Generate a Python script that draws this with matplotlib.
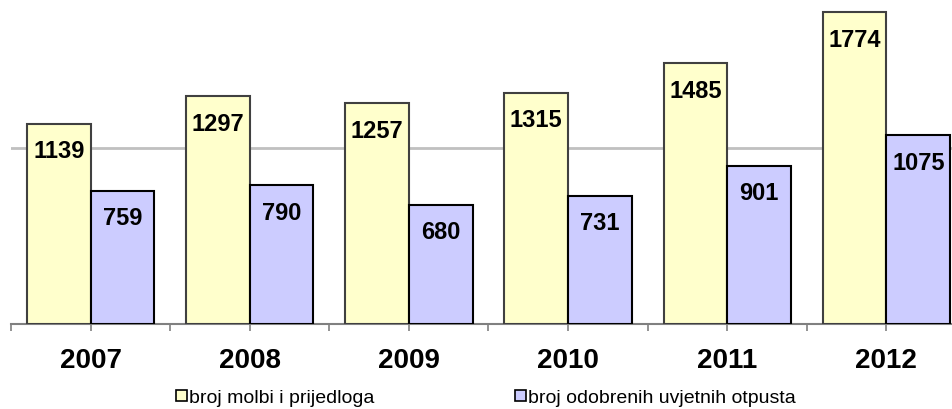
import matplotlib
matplotlib.use("Agg")
import matplotlib.pyplot as plt
import numpy as np
from matplotlib.patches import Patch

years = ["2007", "2008", "2009", "2010", "2011", "2012"]
molbe = [1139, 1297, 1257, 1315, 1485, 1774]
odobreno = [759, 790, 680, 731, 901, 1075]
series_names = ["broj molbi i prijedloga", "broj odobrenih uvjetnih otpusta"]

plt.rcParams['font.family'] = ['Liberation Sans', 'DejaVu Sans']

fig = plt.figure(figsize=(9.52, 4.10), dpi=100)
W, H = 952, 410
ax = fig.add_axes([11 / W, 85 / H, 955 / W, 351.4 / H])

x = np.arange(len(years))
w = 0.4
b1 = ax.bar(x - w / 2, molbe, w, color="#FFFFCC", edgecolor="#404040", linewidth=1.5, zorder=3)
b2 = ax.bar(x + w / 2, odobreno, w, color="#CCCCFF", edgecolor="#000000", linewidth=1.5, zorder=3)

for bars, vals in ((b1, molbe), (b2, odobreno)):
    for r, v in zip(bars, vals):
        ax.annotate(str(v), (r.get_x() + r.get_width() / 2, v), xytext=(0, -27),
                    textcoords="offset pixels", ha="center", va="center",
                    fontsize=17, fontweight="bold", color="black", zorder=4)

ax.set_xlim(-0.5, len(years) - 0.5)
ax.set_ylim(0, 2000)
ax.set_yticks([1000])
ax.yaxis.grid(True, color="#C0C0C0", linewidth=2, zorder=0)
ax.tick_params(axis="y", length=0, labelleft=False)

ax.set_xticks(x)
ax.set_xticklabels(years, fontsize=20, fontweight="bold")
ax.set_xticks(np.arange(-0.5, len(years)), minor=True)
ax.tick_params(axis="x", which="both", length=5, width=1.2, color="#808080", direction="out")
ax.tick_params(axis="x", which="major", pad=11.5)

for s in ("left", "right", "top"):
    ax.spines[s].set_visible(False)
ax.spines["bottom"].set_color("#808080")
ax.spines["bottom"].set_linewidth(1.5)
ax.spines["bottom"].set_zorder(2)

handles = [Patch(facecolor="#FFFFCC", edgecolor="#000000", linewidth=1.2),
           Patch(facecolor="#CCCCFF", edgecolor="#000000", linewidth=1.2)]
fig.legend(handles, series_names, loc="center", bbox_to_anchor=(486 / W, 1 - 399 / H),
           ncol=2, frameon=False, fontsize=14, handlelength=0.55, handleheight=0.55,
           handletextpad=0.15, columnspacing=7.2, borderaxespad=0, borderpad=0)

fig.savefig("out.png", dpi=100)
